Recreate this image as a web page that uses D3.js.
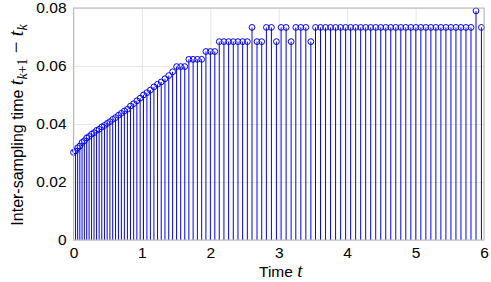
<!DOCTYPE html>
<html>
<head>
<meta charset="utf-8">
<script src="https://cdn.jsdelivr.net/npm/d3@7"></script>
<style>
    body { margin: 0; background: #fff; }
    svg { display: block; }
    .axis text { font-family: "Liberation Sans", Arial, sans-serif; font-size: 15.5px; fill: #000; }
    .grid line { stroke: #e6e6e6; stroke-width: 1; }
</style>
</head>
<body>
<div id="chart"></div>
<script>
(function () {
    "use strict";

    const width = 491;
    const height = 282;
    const margin = { top: 8, right: 7, bottom: 42, left: 73.5 };

    const xTicks = [0, 1, 2, 3, 4, 5, 6];
    const yTicks = [0, 0.02, 0.04, 0.06, 0.08];
    const yTickLabels = ["0", "0.02", "0.04", "0.06", "0.08"];

    // inter-sampling times t_{k+1} - t_k, in sampling order
    const rampHeights = [
        0.0302, 0.0307, 0.0318, 0.0324, 0.0336, 0.0342, 0.0352, 0.0357, 0.0365, 0.0370,
        0.0378, 0.0382, 0.0390, 0.0395, 0.0402, 0.0408, 0.0416, 0.0422, 0.0430, 0.0437,
        0.0445, 0.0451, 0.0462, 0.0470, 0.0480, 0.0489, 0.0500, 0.0508, 0.0517, 0.0528,
        0.0537, 0.0545, 0.0556, 0.0567, 0.0580
    ];
    const plateauHeights = [
        0.0598, 0.0598, 0.0598,
        0.0623, 0.0623, 0.0623, 0.0623,
        0.0650, 0.0650, 0.0650,
        0.0684, 0.0684, 0.0684, 0.0684, 0.0684, 0.0684, 0.0684
    ];
    const switchingHeights = [
        0.0733, 0.0684, 0.0684, 0.0733, 0.0733, 0.0684, 0.0733, 0.0733, 0.0684,
        0.0733, 0.0733, 0.0733, 0.0684
    ];
    const steadyHeights = [
        0.0733, 0.0733, 0.0733, 0.0733, 0.0733, 0.0733, 0.0733, 0.0733,
        0.0733, 0.0733, 0.0733, 0.0733, 0.0733, 0.0733, 0.0733, 0.0733,
        0.0733, 0.0733, 0.0733, 0.0733, 0.0733, 0.0733, 0.0733, 0.0733,
        0.0733, 0.0733, 0.0733, 0.0733, 0.0733, 0.0733, 0.0733, 0.0733,
        0.0790, 0.0733
    ];

    const heights = [...rampHeights, ...plateauHeights, ...switchingHeights, ...steadyHeights];

    // each stem sits at t_k, the running sum of the previous intervals
    let t = 0;
    const samples = heights.map((h) => {
        const d = { t: t, h: h };
        t += h;
        return d;
    });

    const x = d3.scaleLinear().domain([0, 6]).range([margin.left, width - margin.right]);
    const y = d3.scaleLinear().domain([0, 0.08]).range([height - margin.bottom, margin.top]);

    const svg = d3.select("#chart").append("svg")
        .attr("width", width)
        .attr("height", height);

    // grid
    svg.append("g")
        .attr("class", "grid")
        .attr("transform", `translate(0,${y(0)})`)
        .call(d3.axisBottom(x).tickValues(xTicks).tickSize(-(y(0) - y(0.08))).tickFormat(""))
        .call((g) => g.select(".domain").remove());

    svg.append("g")
        .attr("class", "grid")
        .attr("transform", `translate(${x(0)},0)`)
        .call(d3.axisLeft(y).tickValues(yTicks).tickSize(-(x(6) - x(0))).tickFormat(""))
        .call((g) => g.select(".domain").remove());

    // stems
    const blue = "#0000ff";
    svg.append("g")
        .selectAll("line")
        .data(samples)
        .join("line")
        .attr("x1", (d) => x(d.t))
        .attr("x2", (d) => x(d.t))
        .attr("y1", y(0))
        .attr("y2", (d) => y(d.h))
        .attr("stroke", blue)
        .attr("stroke-width", 1);

    svg.append("g")
        .selectAll("circle")
        .data(samples)
        .join("circle")
        .attr("cx", (d) => x(d.t))
        .attr("cy", (d) => y(d.h))
        .attr("r", 2.9)
        .attr("fill", "none")
        .attr("stroke", blue)
        .attr("stroke-width", 1);

    // frame
    svg.append("rect")
        .attr("x", x(0))
        .attr("y", y(0.08))
        .attr("width", x(6) - x(0))
        .attr("height", y(0) - y(0.08))
        .attr("fill", "none")
        .attr("stroke", "#b8b8b8")
        .attr("stroke-width", 1);

    // axes labels
    svg.append("g")
        .attr("class", "axis")
        .attr("transform", `translate(0,${y(0)})`)
        .call(d3.axisBottom(x).tickValues(xTicks).tickSize(0).tickPadding(5).tickFormat(d3.format("d")))
        .call((g) => g.select(".domain").remove())
        .selectAll("text").attr("dy", "0.85em");

    svg.append("g")
        .attr("class", "axis")
        .attr("transform", `translate(${x(0)},0)`)
        .call(d3.axisLeft(y).tickValues(yTicks).tickSize(0).tickPadding(7)
            .tickFormat((d, i) => yTickLabels[i]))
        .call((g) => g.select(".domain").remove());

    const sans = '"Liberation Sans", Arial, sans-serif';
    const serif = '"Liberation Serif", "DejaVu Serif", serif';

    const xTitle = svg.append("text")
        .attr("x", (x(0) + x(6)) / 2 + 2)
        .attr("y", 277)
        .attr("text-anchor", "middle")
        .attr("font-size", 15.5);
    xTitle.append("tspan").attr("font-family", sans).text("Time ");
    xTitle.append("tspan").attr("font-family", serif).attr("font-style", "italic").attr("font-size", 19).text("t");

    const yTitleParts = [
        { text: "Inter-sampling time ", family: sans, size: 16 },
        { text: "t", family: serif, italic: true, size: 20 },
        { text: "k", family: serif, italic: true, size: 14, dy: 4 },
        { text: "+1", family: serif, size: 14 },
        { text: " \u2212 ", family: serif, size: 21, dy: -4 },
        { text: "t", family: serif, italic: true, size: 20 },
        { text: "k", family: serif, italic: true, size: 14, dy: 4 }
    ];

    const yTitle = svg.append("text")
        .attr("transform", `translate(23,${(y(0) + y(0.08)) / 2 + 1}) rotate(-90)`)
        .attr("text-anchor", "middle");

    yTitleParts.forEach((p) => {
        yTitle.append("tspan")
            .attr("font-family", p.family)
            .attr("font-size", p.size)
            .attr("font-style", p.italic ? "italic" : null)
            .attr("dy", p.dy || null)
            .text(p.text);
    });
}());
</script>
</body>
</html>
